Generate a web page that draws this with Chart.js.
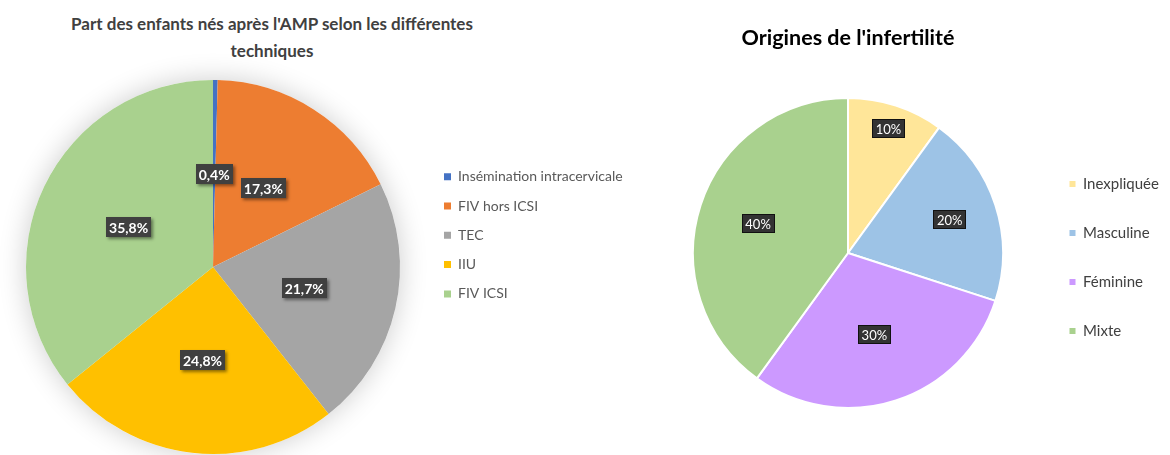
<!DOCTYPE html>
<html lang="fr">
<head>
<meta charset="UTF-8">
<title>AMP - techniques et origines de l'infertilité</title>
<script src="https://cdn.jsdelivr.net/npm/chart.js@4"></script>
<style>
  body { margin: 0; background: #fff; font-family: 'Lato', sans-serif; }
  .page { position: relative; width: 1170px; height: 455px; overflow: hidden; }
  .titre-gauche { position: absolute; left: 0; top: 10px; width: 544px; text-align: center; font-weight: bold; font-size: 17px; line-height: 27px; color: #404040; }
  #techChart { position: absolute; left: -4px; top: 0; }
  #origineChart { position: absolute; left: 660px; top: 0; }
</style>
</head>
<body>
<div class="page">
  <div class="titre-gauche">Part des enfants nés après l'AMP selon les différentes<br>techniques</div>
  <canvas id="techChart" width="640" height="455"></canvas>
  <canvas id="origineChart" width="510" height="455"></canvas>
</div>
<script>
// Données
const techLabels = ['Insémination intracervicale', 'FIV hors ICSI', 'TEC', 'IIU', 'FIV ICSI'];
const techValues = [0.4, 17.3, 21.7, 24.8, 35.8];
const techColors = ['#4472C4', '#ED7D31', '#A5A5A5', '#FFC000', '#A9D18E'];

const origineLabels = ['Inexpliquée', 'Masculine', 'Féminine', 'Mixte'];
const origineValues = [10, 20, 30, 40];
const origineColors = ['#FFE699', '#9DC3E6', '#CC99FF', '#A9D18E'];

// largeur de légende fixe (sinon Chart.js la calcule d'après le texte)
const legendeLargeur = (largeur) => ({
    id: 'legendeLargeur',
    afterInit(chart) {
        const legend = chart.legend;
        if (!legend) return;
        const fit = legend.fit;
        legend.fit = function () { fit.call(this); this.width = largeur; };
    }
});

// halo gris autour du camembert de gauche
const halo = {
    id: 'halo',
    beforeDatasetsDraw(chart, args, opts) {
        const arc = chart.getDatasetMeta(0).data[0];
        if (!arc) return;
        const { x, y, outerRadius } = arc.getProps(['x', 'y', 'outerRadius'], true);
        const ctx = chart.ctx;
        ctx.save();
        ctx.shadowColor = opts.color;
        ctx.shadowBlur = opts.blur;
        ctx.fillStyle = '#fff';
        ctx.beginPath();
        ctx.arc(x, y, outerRadius, 0, Math.PI * 2);
        ctx.fill();
        ctx.restore();
    }
};

// étiquettes de pourcentage dans des cadres sombres
const etiquettes = {
    id: 'etiquettes',
    afterDatasetsDraw(chart, args, opts) {
        const ctx = chart.ctx;
        const meta = chart.getDatasetMeta(0);
        const values = chart.data.datasets[0].data;
        meta.data.forEach((arc, i) => {
            const p = arc.getProps(['x', 'y', 'startAngle', 'endAngle', 'outerRadius'], true);
            const angle = (p.startAngle + p.endAngle) / 2;
            const r = p.outerRadius * (opts.rayons ? opts.rayons[i] : 0.5);
            const cx = p.x + Math.cos(angle) * r;
            const cy = p.y + Math.sin(angle) * r;
            const texte = values[i].toFixed(opts.decimales).replace('.', ',') + '%';

            ctx.save();
            ctx.font = opts.font;
            const w = Math.round(ctx.measureText(texte).width + opts.padX * 2);
            const h = opts.hauteur;
            const bx = Math.round(cx - w / 2), by = Math.round(cy - h / 2);
            if (opts.ombre) {
                ctx.shadowColor = 'rgba(0,0,0,0.45)';
                ctx.shadowBlur = 3;
                ctx.shadowOffsetX = 2;
                ctx.shadowOffsetY = 2;
            }
            ctx.fillStyle = opts.fond;
            ctx.fillRect(bx, by, w, h);
            ctx.shadowColor = 'transparent';
            if (opts.bord) {
                ctx.strokeStyle = opts.bord;
                ctx.lineWidth = 1;
                ctx.strokeRect(bx + 0.5, by + 0.5, w - 1, h - 1);
            }
            ctx.fillStyle = '#fff';
            ctx.textAlign = 'center';
            ctx.textBaseline = 'middle';
            ctx.fillText(texte, cx, by + h / 2 + 1);
            ctx.restore();
        });
    }
};

new Chart(document.getElementById('techChart'), {
    type: 'pie',
    data: {
        labels: techLabels,
        datasets: [{ data: techValues, backgroundColor: techColors, borderWidth: 0, radius: 187 }]
    },
    options: {
        responsive: false,
        animation: false,
        layout: { padding: { left: 1.3, top: 154.4, bottom: 75.4, right: 0 } },
        plugins: {
            tooltip: { enabled: false },
            legend: {
                position: 'right',
                align: 'start',
                labels: { boxWidth: 7, boxHeight: 7, padding: 15.3, color: '#595959', font: { family: 'Lato', size: 14 } }
            },
            halo: { color: 'rgba(0,0,0,0.2)', blur: 28 },
            etiquettes: { decimales: 1, font: 'bold 14px Lato', padX: 3, hauteur: 20, fond: '#404040', ombre: true }
        }
    },
    plugins: [legendeLargeur(207.3), halo, etiquettes]
});

new Chart(document.getElementById('origineChart'), {
    type: 'pie',
    data: {
        labels: origineLabels,
        datasets: [{ data: origineValues, backgroundColor: origineColors, borderColor: '#fff', borderWidth: 2, radius: 155 }]
    },
    options: {
        responsive: false,
        animation: false,
        layout: { padding: { left: 0.5, top: 0, bottom: 82.5, right: 0 } },
        plugins: {
            tooltip: { enabled: false },
            title: {
                display: true,
                text: "Origines de l'infertilité",
                fullSize: false,
                color: '#000',
                font: { family: 'Lato', size: 21.5, weight: 'bold', lineHeight: 1.2 },
                padding: { top: 25.1, bottom: 82.6 }
            },
            legend: {
                position: 'right',
                align: 'end',
                labels: {
                    boxWidth: 6, boxHeight: 6, padding: 34, color: '#404040', font: { family: 'Lato', size: 15 },
                    generateLabels(chart) {
                        const items = Chart.overrides.pie.plugins.legend.labels.generateLabels(chart);
                        items.forEach(it => { it.lineWidth = 0; });
                        return items;
                    }
                }
            },
            etiquettes: { decimales: 0, font: '13px Lato', padX: 4, hauteur: 19, fond: '#333333', bord: '#111', rayons: [0.845, 0.69, 0.55, 0.61] }
        }
    },
    plugins: [legendeLargeur(134.5), etiquettes]
});
</script>
</body>
</html>
